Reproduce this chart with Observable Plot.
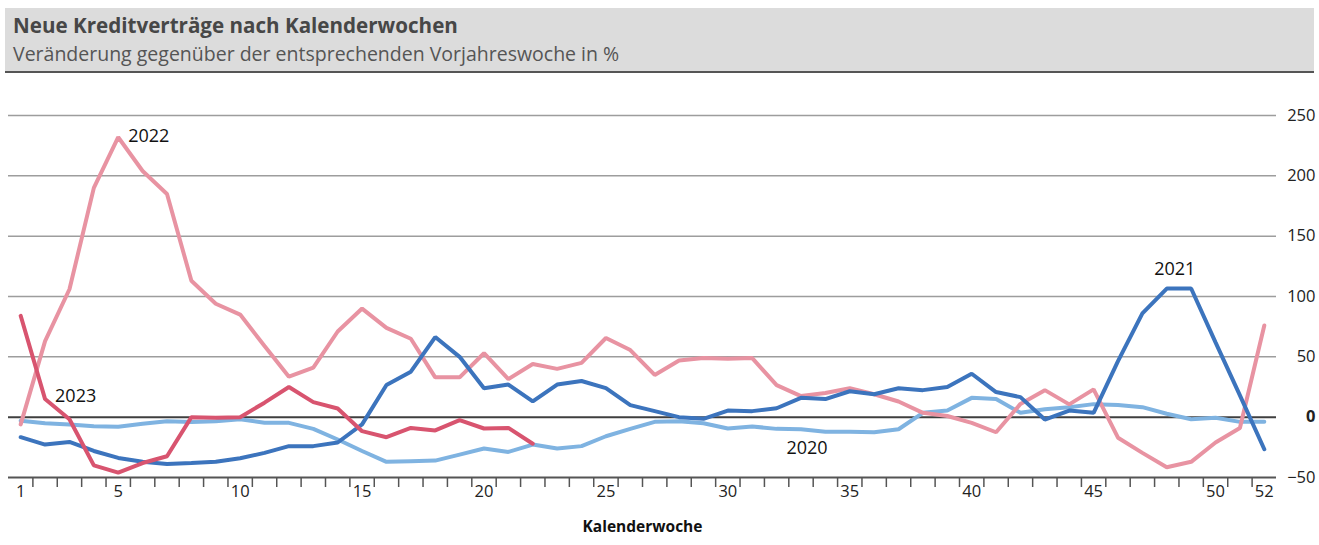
<!DOCTYPE html>
<html><head><meta charset="utf-8">
<script src="https://cdn.jsdelivr.net/npm/d3@7"></script>
<script src="https://cdn.jsdelivr.net/npm/@observablehq/plot@0.6"></script>
<style>
body{margin:0;background:#fff;font-family:"Open Sans", sans-serif;}
#head{position:absolute;left:5px;top:8px;width:1309px;height:63px;background:#dcdcdc;border-bottom:2px solid #555;}
#title{position:absolute;left:8px;top:3px;font-size:20.6px;font-weight:bold;color:#474747;white-space:nowrap;}
#sub{position:absolute;left:8px;top:32px;font-size:19.5px;color:#555;white-space:nowrap;}
#chart{position:absolute;left:0;top:72px;}
</style></head><body>
<div id="head"><div id="title">Neue Kreditverträge nach Kalenderwochen</div><div id="sub">Veränderung gegenüber der entsprechenden Vorjahreswoche in %</div></div>
<div id="chart"></div>
<script>
const weeks = d3.range(1, 53);
const years = ["2020", "2022", "2021", "2023"];
const v2020 = [-3,-5,-6,-7.5,-8,-5.5,-3.3,-4,-3.3,-1.7,-4.7,-4.7,-9.7,-18.5,-28,-37,-36.5,-36,-31,-26,-28.8,-22.7,-26,-24,-15.8,-9.7,-3.9,-3.3,-5,-9.4,-7.7,-9.7,-10,-12,-12,-12.5,-10,3.6,5.5,16,15,3.6,6.6,8.3,10.8,10,8.3,2.8,-1.7,-0.5,-3.9,-3.9];
const v2021 = [-16.6,-22.7,-20.5,-28,-33.8,-37,-38.8,-38,-37,-34,-29.6,-24,-24,-21,-6,26.6,37.7,66.4,50,24,27,13,27,30,24,10,5,0,-1.4,5.5,5,7.4,16,15,21.5,19,24,22.4,25,36,20.8,16.6,-2,5.5,3.6,46.5,86,106.6,106.6,62,18,-26.6];
const v2022 = [-6,63,106,190,232,204,185,113,94,85,59,33.5,41,71,90,74,65,33,33,53,31.5,44,40,45,65.6,55.6,35,47,49,48.4,49,26.5,17.5,20,24,19,13,3.6,1,-4.7,-12.5,11,22.4,10.6,23,-17,-29.6,-41.5,-37,-21,-9,76];
const v2023 = [84,15,-1.7,-40,-46,-38,-32.4,0,-0.5,0,12,25,12.5,7.2,-11.6,-16.6,-8.9,-11,-2.5,-9.4,-8.9,-22];
const seriesValues = {"2020": v2020, "2021": v2021, "2022": v2022, "2023": v2023};
const yTicks = [-50, 0, 50, 100, 150, 200, 250];
const xTickLabels = [1, 5, 10, 15, 20, 25, 30, 35, 40, 45, 50, 52];
const xTickMarks = d3.range(1.5, 52, 1);
const colors = ["#7fb3e1", "#e893a2", "#3c74bd", "#d8546f"];

const data = years.flatMap(y => seriesValues[y].map((v, i) => ({year: y, week: weeks[i], value: v})));
const pt = (y, w) => ({week: w, value: seriesValues[y][w - 1], label: y});

const chart = Plot.plot({
  width: 1319,
  height: 473,
  marginLeft: 8,
  marginRight: 43,
  marginTop: 43,
  marginBottom: 68,
  x: {domain: [0.5, 52.5], axis: null, label: null},
  y: {domain: [-50, 250], axis: null, label: null},
  color: {domain: years, range: colors},
  style: {fontFamily: "Open Sans, sans-serif", background: "transparent"},
  marks: [
    Plot.ruleY(yTicks.filter(d => d > 0), {stroke: "#9d9d9d", strokeWidth: 1.5}),
    Plot.ruleY([0], {stroke: "#3f3f3f", strokeWidth: 2}),
    Plot.ruleY([-50], {stroke: "#555", strokeWidth: 2}),
    Plot.axisX(xTickMarks, {anchor: "bottom", tickSize: 10, text: null, label: null, stroke: "#555", strokeWidth: 1.5}),
    Plot.axisX(xTickLabels, {anchor: "bottom", tickSize: 0, tickPadding: 8, label: null, fontSize: 16.5, fill: "#222"}),
    Plot.axisY(yTicks.filter(d => d !== 0), {anchor: "right", tickSize: 0, tickPadding: 39, label: null, textAnchor: "end", fontSize: 16.5, fill: "#222"}),
    Plot.axisY([0], {anchor: "right", tickSize: 0, tickPadding: 39, label: null, textAnchor: "end", fontSize: 16.5, fontWeight: "bold", fill: "#222"}),
    Plot.text(["Kalenderwoche"], {frameAnchor: "bottom", dy: 54, fontSize: 15.5, fontWeight: "bold", fill: "#111"}),
    Plot.lineY(data, {x: "week", y: "value", z: "year", stroke: "year", strokeWidth: 4, strokeLinejoin: "miter"}),
    Plot.text([pt("2022", 5)], {x: "week", y: "value", text: "label", textAnchor: "start", dx: 10, dy: -1, fontSize: 18, fill: "#111"}),
    Plot.text([pt("2023", 2)], {x: "week", y: "value", text: "label", textAnchor: "start", dx: 10, dy: -3, fontSize: 18, fill: "#111"}),
    Plot.text([pt("2021", 48)], {x: "week", y: "value", text: "label", textAnchor: "middle", dx: 8, dy: -19, fontSize: 18, fill: "#111"}),
    Plot.text([pt("2020", 33)], {x: "week", y: "value", text: "label", textAnchor: "middle", dx: 6, dy: 19, fontSize: 18, fill: "#111"})
  ]
});
document.getElementById("chart").appendChild(chart);
</script>
</body></html>
